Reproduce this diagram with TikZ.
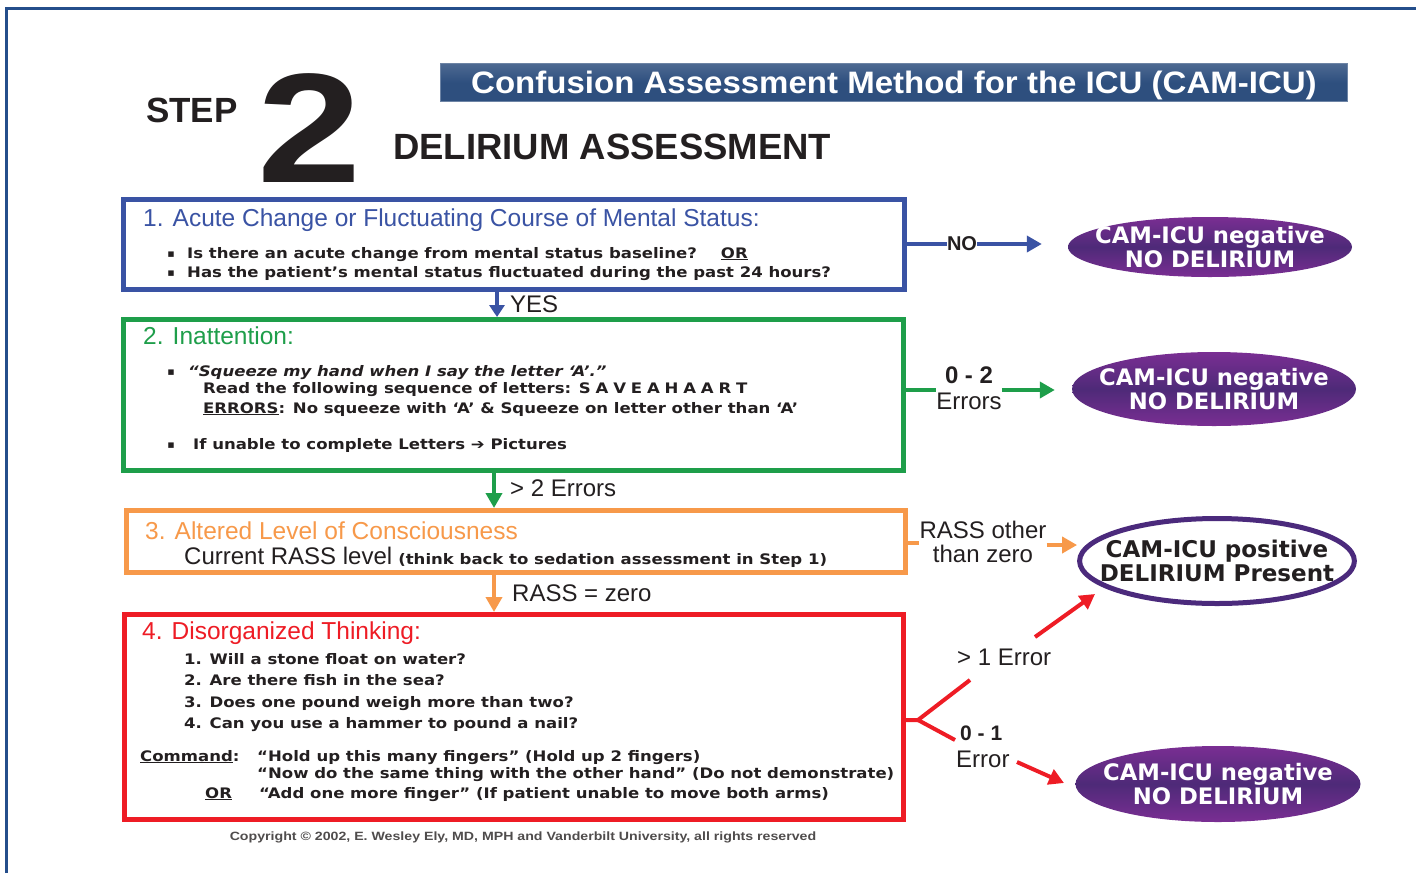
\documentclass[tikz,border=0pt]{standalone}
\usepackage{fontspec}
\setmainfont{Liberation Sans}
\newfontfamily\dvsw{DejaVu Sans}[FakeStretch=1.14]
\newfontfamily\dvs{DejaVu Sans}
\newfontfamily\lsw{Liberation Sans}[FakeStretch=1.065]
\newfontfamily\lswc{Liberation Sans}[FakeStretch=1.18]
\newfontfamily\lstwo{Liberation Sans}[FakeStretch=1.2]
\usetikzlibrary{arrows.meta,shapes.geometric,calc}
\definecolor{cblue}{HTML}{3A53A4}
\definecolor{cgreen}{HTML}{1E9E4A}
\definecolor{corange}{HTML}{F7994A}
\definecolor{cred}{HTML}{EE1C25}
\definecolor{cpurp}{HTML}{7A2E93}
\definecolor{cpurpd}{HTML}{4E2A78}
\definecolor{cring}{HTML}{4B2A7C}
\definecolor{cnavy}{HTML}{2E4F7E}
\definecolor{cframe}{HTML}{244E8B}
\definecolor{ctext}{HTML}{231F20}
\tikzset{
  box/.style={draw, line width=5pt, fill=white, inner sep=0},
  small/.style={anchor=base west, inner sep=0, text=ctext, font=\dvsw\bfseries\fontsize{14.5}{17}\selectfont},
  ttl/.style={anchor=base west, inner sep=0, font=\fontsize{24.5}{28}\selectfont},
  lab/.style={inner sep=0, text=ctext, align=center, font=\fontsize{24}{26}\selectfont},
  ell/.style={ellipse, inner sep=-20pt, align=center, text=white,
     font=\dvs\bfseries\fontsize{22.7}{24}\selectfont,
     top color=cpurp, bottom color=cpurp, middle color=cpurpd},
  arr/.style={line width=4pt, -{Triangle[length=15pt,width=16pt]}},
  bul/.style={anchor=base, inner sep=0, text=ctext, font=\dvs\bfseries\fontsize{11}{12}\selectfont},
}
\begin{document}
\begin{tikzpicture}[x=1pt,y=-1pt]
\useasboundingbox (0,0) rectangle (1416,873);
% frame
\draw[cframe, line width=3pt] (6,873) -- (6,8) -- (1416,8);
% header
\node[top color=cnavy!85!white, bottom color=cnavy, middle color=cnavy, draw=cnavy!70!white, line width=1pt,
      minimum width=907pt, minimum height=38pt, inner sep=0, text depth=0pt,
      text=white, font=\lsw\bfseries\fontsize{31}{32}\selectfont] (banner) at (894,82.5)
      {Confusion Assessment Method for the ICU (CAM-ICU)};
\node[anchor=base west, inner sep=0, text=ctext, font=\bfseries\fontsize{35}{36}\selectfont] (step) at (146,122) {STEP};
\node[anchor=base west, inner sep=0, text=ctext, font=\lstwo\bfseries\fontsize{156}{156}\selectfont] (two) at (257,182) {2};
\node[anchor=base west, inner sep=0, text=ctext, font=\bfseries\fontsize{36.5}{38}\selectfont] (da) at (393,159) {DELIRIUM ASSESSMENT};

% boxes
\node[box, draw=cblue, minimum width=781pt, minimum height=90pt] (b1) at (514,244.5) {};
\node[box, draw=cgreen, minimum width=780pt, minimum height=151pt] (b2) at (513.5,395) {};
\node[box, draw=corange, minimum width=779pt, minimum height=62pt] (b3) at (516,541.5) {};
\node[box, draw=cred, minimum width=779pt, minimum height=205pt] (b4) at (514,717) {};

% box 1 text
\node[ttl, text=cblue] (t1) at (143,226) {1. Acute Change or Fluctuating Course of Mental Status:};
\node[bul] (p11) at (171,257) {▪};
\node[bul] (p12) at (171,276) {▪};
\node[small] (l11) at (187,258) {Is there an acute change from mental status baseline?\hspace{24pt}\underline{OR}};
\node[small] (l12) at (187,277) {Has the patient’s mental status fluctuated during the past 24 hours?};

% box 2 text
\node[ttl, text=cgreen] (t2) at (143,344) {2. Inattention:};
\node[bul] (p21) at (171,375) {▪};
\node[small, font=\dvsw\bfseries\itshape\fontsize{14.5}{17}\selectfont] (l21) at (188,376) {“Squeeze my hand when I say the letter ‘A’.”};
\node[small] (l22) at (203,393) {Read the following sequence of letters: S\,\,A\,\,V\,\,E\,\,A\,\,H\,\,A\,\,A\,\,R\,\,T};
\node[small] (l23) at (203,413) {\underline{ERRORS}: No squeeze with ‘A’ \& Squeeze on letter other than ‘A’};
\node[bul] (p22) at (171,448) {▪};
\node[small] (l24) at (193,449) {If unable to complete Letters ➔ Pictures};

% box 3 text
\node[ttl, text=corange] (t3) at (145,539) {3. Altered Level of Consciousness};
\node[ttl, text=ctext, font=\fontsize{24}{26}\selectfont] (l31) at (184,564) {Current RASS level\hspace{6pt}{\dvsw\bfseries\fontsize{14.5}{17}\selectfont (think back to sedation assessment in Step 1)}};

% box 4 text
\node[ttl, text=cred] (t4) at (142,639) {4. Disorganized Thinking:};
\node[small] (q1) at (184,664) {1. Will a stone float on water?};
\node[small] (q2) at (184,685) {2. Are there fish in the sea?};
\node[small] (q3) at (184,707) {3. Does one pound weigh more than two?};
\node[small] (q4) at (184,728) {4. Can you use a hammer to pound a nail?};
\node[small] (cm) at (140,761) {\underline{Command}:};
\node[small] (c1) at (257,761) {“Hold up this many fingers” (Hold up 2 fingers)};
\node[small] (c2) at (257,778) {“Now do the same thing with the other hand” (Do not demonstrate)};
\node[small] (or) at (205,798) {\underline{OR}};
\node[small] (c3) at (259,798) {“Add one more finger” (If patient unable to move both arms)};

\node[inner sep=0, text=ctext!80, font=\lswc\bfseries\fontsize{12}{13}\selectfont] (copy) at (523,837)
  {Copyright © 2002, E. Wesley Ely, MD, MPH and Vanderbilt University, all rights reserved};

% vertical connectors
\draw[arr, cblue, -{Triangle[length=12pt,width=15pt]}] ([xshift=-17pt]b1.south) -- ([xshift=-17pt]b1.south |- b2.north);
\node[lab, anchor=west] (yes) at (510,304) {YES};
\draw[arr, cgreen] ([xshift=-19.5pt]b2.south) -- ([xshift=-19.5pt]b2.south |- b3.north);
\node[lab, anchor=west] (gt2) at (510,488) {> 2 Errors};
\draw[arr, corange] ([xshift=-22pt]b3.south) -- ([xshift=-22pt]b3.south |- b4.north);
\node[lab, anchor=west] (rz) at (512,593) {RASS = zero};

% outcome ellipses
\node[ell, minimum width=284pt, minimum height=60pt] (e1) at (1210,247) {CAM-ICU negative\\NO DELIRIUM};
\node[ell, minimum width=284pt, minimum height=74pt] (e2) at (1214,389) {CAM-ICU negative\\NO DELIRIUM};
\node[ellipse, draw=cring, line width=5pt, fill=white, inner sep=-20pt, align=center, text=ctext,
      font=\dvs\bfseries\fontsize{23}{24}\selectfont, minimum width=273pt, minimum height=85pt] (e3) at (1217,561)
      {CAM-ICU positive\\DELIRIUM Present};
\node[ell, minimum width=285pt, minimum height=76pt] (e4) at (1218,784) {CAM-ICU negative\\NO DELIRIUM};

% right connectors
\node[lab, font=\bfseries\fontsize{20}{22}\selectfont] (no) at (962,244) {NO};
\draw[cblue, line width=4pt] (b1.east |- no) -- (no.west);
\draw[arr, cblue, shorten >=26pt] (no.east) -- (e1.west |- no);

\node[lab] (z2) at (969,388) {\textbf{0 - 2}\\Errors};
\draw[cgreen, line width=4pt] (b2.east |- 0,390) -- (z2.west |- 0,390);
\draw[arr, cgreen, shorten >=17pt] (z2.east |- 0,390) -- (e2.west |- 0,390);

\node[lab, font=\fontsize{24}{24}\selectfont] (ro) at (983,542) {RASS other\\than zero};
\draw[corange, line width=4pt] (b3.east |- 0,543) -- (ro.west |- 0,543);
\draw[arr, corange] (ro.east |- 0,545) -- (e3.west |- 0,545);

\node[lab, anchor=west] (gt1) at (957,657) {> 1 Error};
\node[lab, anchor=west, font=\bfseries\fontsize{21}{22}\selectfont] (z1) at (960,733) {0 - 1};
\node[lab, anchor=west] (er1) at (956,759) {Error};
\coordinate (br) at (918,720);
\coordinate (up) at (970,680);
\coordinate (dn) at (955,740);
\coordinate (a1s) at (1035,637);
\coordinate (a1e) at (1095,594);
\coordinate (a2s) at (1017,762);
\coordinate (a2e) at (1064,783);
\draw[cred, line width=4pt, line join=miter] (b4.east |- br) -- (br) -- (up);
\draw[cred, line width=4pt] (br) -- (dn);
\draw[arr, cred] (a1s) -- (a1e);
\draw[arr, cred] (a2s) -- (a2e);
\end{tikzpicture}
\end{document}
